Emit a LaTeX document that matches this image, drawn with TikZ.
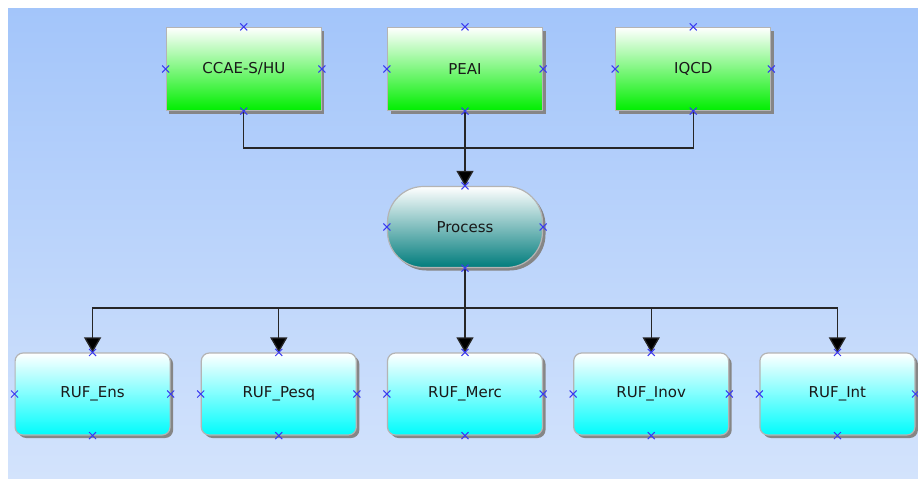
\documentclass[tikz,border=0pt]{standalone}
\usepackage{fontspec}
\setmainfont{DejaVu Sans}
\usetikzlibrary{arrows.meta,positioning,shadows}
\definecolor{bgtop}{HTML}{A3C5FA}
\definecolor{bgbot}{HTML}{D3E3FC}
\definecolor{srcgreen}{HTML}{00EE00}
\definecolor{proteal}{HTML}{007C7C}
\definecolor{ufcyan}{HTML}{00FCFC}
\definecolor{edgegray}{HTML}{B4B4B4}
\definecolor{shadegray}{HTML}{868686}
\definecolor{xblue}{HTML}{3A3AF0}
\tikzset{
  boxBase/.style={draw=edgegray, line width=1.2pt, minimum width=155pt, inner sep=0pt, font=\fontsize{15}{18}\selectfont, text=black!90, drop shadow={shadow xshift=3pt, shadow yshift=-3pt, fill=shadegray, opacity=1}},
  srcBox/.style={boxBase, minimum height=83pt, top color=white, bottom color=srcgreen},
  procBox/.style={boxBase, minimum height=81pt, rounded corners=36pt, top color=white, bottom color=proteal},
  ufBox/.style={boxBase, minimum height=82pt, rounded corners=8pt, top color=white, bottom color=ufcyan},
  flowArrow/.style={-{Triangle[width=17pt,length=15pt,fill=black]}, line width=1.3pt, draw=black!85},
  flowLine/.style={line width=1.3pt, draw=black!85},
  xmark/.style={draw=xblue, line width=1pt}
}

\begin{document}
\begin{tikzpicture}[x=1pt,y=-1pt]
  \useasboundingbox (0,0) rectangle (918,479);
  \shade[top color=bgtop, bottom color=bgbot] (8,8) rectangle (918,479);

  % sources
  \node[srcBox] (peai) at (465,69) {PEAI};
  \node[srcBox, left=65pt of peai] (ccae) {CCAE-S/HU};
  \node[srcBox, right=72pt of peai] (iqcd) {IQCD};

  \node[procBox] (proc) at (465,227) {Process};

  % results
  \node[ufBox] (merc) at (465,394) {RUF\_Merc};
  \node[ufBox, left=30pt of merc] (pesq) {RUF\_Pesq};
  \node[ufBox, left=30pt of pesq] (ens) {RUF\_Ens};
  \node[ufBox, right=30pt of merc] (inov) {RUF\_Inov};
  \node[ufBox, right=30pt of inov] (int) {RUF\_Int};

  \coordinate (topbus) at (465,148);
  \coordinate (lowbus) at (465,308);

  \draw[flowLine] (ccae.south) |- (topbus) -| (iqcd.south);
  \draw[flowArrow] (peai.south) -- (proc.north);
  \draw[flowLine] (proc.south) -- (lowbus);
  \foreach \n in {ens,pesq,merc,inov,int}
    \draw[flowArrow] (lowbus) -| (\n.north);

  % connection points
  \foreach \n in {ccae,peai,iqcd,proc,ens,pesq,merc,inov,int}
    \foreach \a in {north,south,east,west}
      \draw[xmark] (\n.\a) +(-3.5,-3.5) -- +(3.5,3.5) +(-3.5,3.5) -- +(3.5,-3.5);
\end{tikzpicture}
\end{document}
